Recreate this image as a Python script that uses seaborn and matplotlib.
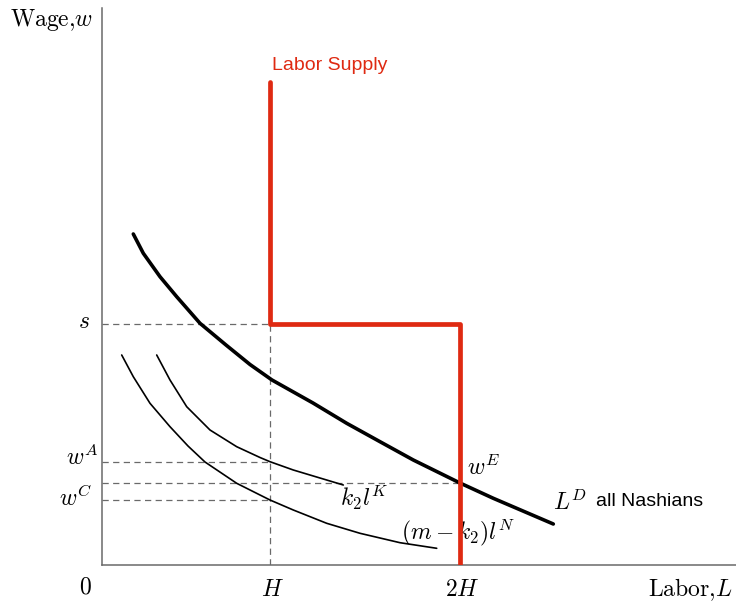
import seaborn as sns
import matplotlib.pyplot as plt

# Positions along the axes (origin at the corner of the axes)
H = 168
H2 = 358
s = 241
wA = 103
wE = 82
wC = 65
supply_top = 483

# Labor demand, all Nashians
ld_x = [31.3, 41.3, 58, 74.7, 98, 124, 148, 170, 211, 244.7, 278, 311.3, 358, 391.3, 451.3]
ld_y = [331, 311.7, 288.3, 268.3, 241.7, 220, 200.5, 185, 162, 141.7, 123.3, 105, 82, 66.7, 41]

# k2 l^K
k_x = [54.7, 68, 84.7, 108, 134.7, 158, 168, 191.3, 241.3]
k_y = [210, 185, 158.3, 135, 118.3, 107.5, 103.3, 95, 80]

# (m - k2) l^N
n_x = [19.7, 31.3, 48, 68, 86, 103, 134.7, 158, 168, 191.3, 224.7, 258, 298, 334.7]
n_y = [210, 188.3, 161.7, 138.3, 119, 103, 81.7, 70, 65, 55, 41.7, 31.7, 22.3, 16.7]

# Labor supply step
sup_x = [H, H, H2, H2]
sup_y = [supply_top, s, s, 0]

sns.set_style('white')
plt.rcParams['mathtext.fontset'] = 'cm'
plt.rcParams['font.family'] = ['Liberation Sans', 'DejaVu Sans']
plt.rcParams['text.color'] = 'black'

fig = plt.figure(figsize=(7.36, 6.04), dpi=100)
ax = fig.add_axes([102 / 736, 39 / 604, 634 / 736, 557 / 604])
ax.set_xlim(0, 634)
ax.set_ylim(0, 557)

red = '#df2a12'
gray = '#6a6a6a'
dash = (0, (5, 3.5))

# dashed guides
ax.hlines([s, wA, wC], 0, H, colors=gray, linestyles=dash, lw=0.9)
ax.hlines(wE, 0, H2, colors=gray, linestyles=dash, lw=0.9)
ax.vlines(H, 0, s, colors=gray, linestyles=dash, lw=0.9)

sns.lineplot(x=n_x, y=n_y, ax=ax, color='black', lw=1.2, sort=False, estimator=None)
sns.lineplot(x=k_x, y=k_y, ax=ax, color='black', lw=1.2, sort=False, estimator=None)
sns.lineplot(x=ld_x, y=ld_y, ax=ax, color='black', lw=2.6, sort=False, estimator=None)
sns.lineplot(x=sup_x, y=sup_y, ax=ax, color=red, lw=3.4, sort=False, estimator=None)
ax.lines[-1].set_solid_capstyle('round')
ax.lines[-1].set_zorder(5)
for ln in ax.lines[:-1]:
    ln.set_solid_joinstyle('round')

for side in ['top', 'right']:
    ax.spines[side].set_visible(False)
for side in ['left', 'bottom']:
    ax.spines[side].set_color(gray)
    ax.spines[side].set_linewidth(1.1)
ax.set_xticks([])
ax.set_yticks([])

fs = 17
ax.text(-92, 545, r'$\mathrm{Wage}{,}w$', fontsize=fs, ha='left', va='center')
ax.text(-12, 243, r'$s$', fontsize=fs, ha='right', va='center')
ax.text(-4, 108, r'$w^A$', fontsize=fs, ha='right', va='center')
ax.text(-10, 67, r'$w^C$', fontsize=fs, ha='right', va='center')
ax.text(-17, -23, r'$0$', fontsize=fs, ha='center', va='center')
ax.text(H + 2, -25, r'$H$', fontsize=fs, ha='center', va='center')
ax.text(H2 + 2, -25, r'$2H$', fontsize=fs, ha='center', va='center')
ax.text(630, -25, r'$\mathrm{Labor}{,}L$', fontsize=fs, ha='right', va='center')
ax.text(365, 97, r'$w^E$', fontsize=fs, ha='left', va='center')
ax.text(262, 67, r'$k_2 l^K$', fontsize=fs, ha='center', va='center')
ax.text(356, 32, r'$(m-k_2)l^N$', fontsize=fs, ha='center', va='center')
ax.text(451, 62, r'$L^D$', fontsize=fs, ha='left', va='center')
ax.text(494, 64, 'all Nashians', fontsize=14, ha='left', va='center')
ax.text(H + 2, 499, 'Labor Supply', fontsize=14, color=red, ha='left', va='center')

fig.savefig('out.png', dpi=100)
